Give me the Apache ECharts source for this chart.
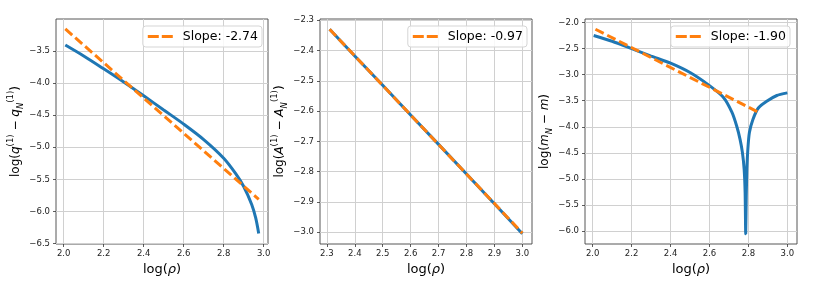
<!DOCTYPE html>
<html>
<head>
<meta charset="utf-8">
<script src="https://cdn.jsdelivr.net/npm/echarts@6/dist/echarts.min.js"></script>
<style>
html,body{margin:0;padding:0;background:#fff;}
#chart{width:831px;height:282px;}
</style>
</head>
<body>
<div id="chart"></div>
<script>
// ---- data ----
const p1X = [2.008, 2.1, 2.2, 2.3, 2.4, 2.5, 2.6, 2.7, 2.8, 2.86, 2.9, 2.94, 2.96, 2.975];
const p1Y = [-3.41, -3.58, -3.78, -3.985, -4.20, -4.42, -4.64, -4.88, -5.17, -5.41, -5.61, -5.89, -6.10, -6.34];
const fit1X = [2.008, 2.975];
const fit1Y = [-3.16, -5.81];

const p2X = [2.31, 2.4, 2.5, 2.6, 2.7, 2.8, 2.9, 3.0];
const p2Y = [-2.33, -2.418, -2.515, -2.613, -2.71, -2.808, -2.906, -3.005];
const fit2X = [2.31, 3.0];
const fit2Y = [-2.33, -3.003];

const p3X = [2.005, 2.1, 2.2, 2.3, 2.4, 2.5, 2.6, 2.67, 2.715, 2.74, 2.757, 2.769, 2.778, 2.783, 2.786, 2.789, 2.792, 2.797, 2.805, 2.823, 2.851, 2.894, 2.946, 3.0];
const p3Y = [-2.25, -2.36, -2.50, -2.645, -2.78, -2.96, -3.21, -3.43, -3.72, -3.99, -4.24, -4.49, -4.81, -5.26, -6.05, -5.3, -4.81, -4.43, -4.11, -3.86, -3.64, -3.51, -3.40, -3.35];
const fit3X = [2.014, 2.851];
const fit3Y = [-2.13, -3.72];

const legend1 = 'Slope: -2.74';
const legend2 = 'Slope: -0.97';
const legend3 = 'Slope: -1.90';

const xTicks1 = [2.0, 2.2, 2.4, 2.6, 2.8, 3.0];
const yTicks1 = [-6.5, -6.0, -5.5, -5.0, -4.5, -4.0, -3.5];
const xTicks2 = [2.3, 2.4, 2.5, 2.6, 2.7, 2.8, 2.9, 3.0];
const yTicks2 = [-3.0, -2.9, -2.8, -2.7, -2.6, -2.5, -2.4, -2.3];
const xTicks3 = [2.0, 2.2, 2.4, 2.6, 2.8, 3.0];
const yTicks3 = [-6.0, -5.5, -5.0, -4.5, -4.0, -3.5, -3.0, -2.5, -2.0];

// ---- helpers ----
const zip = (xs, ys) => xs.map((x, i) => [x, ys[i]]);
const FONT = 'DejaVu Sans';
const BLUE = '#1f77b4', ORANGE = '#ff7f0e';
const fmt = v => (Math.round(v * 10) / 10).toFixed(1).replace('-', '\u2212');

const nameRich = {
  t: {fontSize: 12, fontFamily: FONT, color: '#000', lineHeight: 19},
  i: {fontSize: 12, fontFamily: FONT, fontStyle: 'italic', color: '#000', lineHeight: 19},
  sup: {fontSize: 8.5, fontFamily: FONT, color: '#000', verticalAlign: 'top', lineHeight: 11},
  sub: {fontSize: 8.5, fontFamily: FONT, fontStyle: 'italic', color: '#000', verticalAlign: 'bottom', lineHeight: 10}
};
const xNameRich = {
  t: {fontSize: 13, fontFamily: FONT, color: '#000'},
  i: {fontSize: 13, fontFamily: FONT, fontStyle: 'italic', color: '#000'}
};

function xAxis(idx, min, max, ticks) {
  return {
    type: 'value', gridIndex: idx, min: min, max: max,
    name: '{t|log(}{i|\u03c1}{t|)}', nameLocation: 'middle', nameGap: 16,
    nameTextStyle: {rich: xNameRich},
    axisLine: {show: false},
    axisTick: {show: true, length: 3, lineStyle: {color: '#333', width: 0.8}, customValues: ticks},
    axisLabel: {customValues: ticks, formatter: fmt, fontFamily: FONT, fontSize: 8.5, color: '#222', margin: 5},
    splitLine: {show: true, lineStyle: {color: '#d0d0d0', width: 1}}
  };
}
function yAxis(idx, min, max, ticks, name, gap) {
  return {
    type: 'value', gridIndex: idx, min: min, max: max,
    name: name, nameLocation: 'middle', nameGap: gap, nameRotate: 90,
    nameTextStyle: {rich: nameRich},
    axisLine: {show: false},
    axisTick: {show: true, length: 3, lineStyle: {color: '#333', width: 0.8}, customValues: ticks},
    axisLabel: {customValues: ticks, formatter: fmt, fontFamily: FONT, fontSize: 8.5, color: '#222', margin: 6},
    splitLine: {show: true, lineStyle: {color: '#d0d0d0', width: 1}}
  };
}
function legend(name, right) {
  return {
    data: [name], right: right, top: 26, orient: 'horizontal',
    selectedMode: false,
    icon: 'path://M0,0h11v3h-11z M14,0h11v3h-11z',
    symbolKeepAspect: false,
    itemWidth: 25, itemHeight: 3,
    backgroundColor: 'rgba(255,255,255,0.85)', borderColor: '#d5d5d5', borderWidth: 1, borderRadius: 3,
    padding: [4, 4, 4, 5],
    textStyle: {fontFamily: FONT, fontSize: 12.5, color: '#000', padding: [0, 0, 0, 5]}
  };
}
function blue(idx, data, smooth) {
  return {type: 'line', xAxisIndex: idx, yAxisIndex: idx, data: data, showSymbol: false,
    smooth: smooth,
    lineStyle: {color: BLUE, width: 3}, itemStyle: {color: BLUE}, z: 2, silent: true};
}
function fit(idx, name, data) {
  return {type: 'line', name: name, xAxisIndex: idx, yAxisIndex: idx, data: data, showSymbol: false,
    lineStyle: {color: ORANGE, width: 3, type: [9.25, 4]}, itemStyle: {color: ORANGE}, z: 3, silent: true};
}

const chart = echarts.init(document.getElementById('chart'), null, {renderer: 'canvas'});
const gridBase = {top: 19, height: 225, width: 212, show: true, borderColor: '#444', borderWidth: 0.9, backgroundColor: 'transparent'};
chart.setOption({
  animation: false,
  backgroundColor: '#fff',
  grid: [
    Object.assign({left: 56}, gridBase),
    Object.assign({left: 320}, gridBase),
    Object.assign({left: 585}, gridBase)
  ],
  xAxis: [
    xAxis(0, 1.9615, 3.0215, xTicks1),
    xAxis(1, 2.2755, 3.0345, xTicks2),
    xAxis(2, 1.9605, 3.0495, xTicks3)
  ],
  yAxis: [
    yAxis(0, -6.505, -3.005, yTicks1, '{t|log(}{i|q}{sup|(1)}{t| \u2212 }{i|q}{sub|N}{sup|(1)}{t|)}', 29),
    yAxis(1, -3.039, -2.296, yTicks2, '{t|log(}{i|A}{sup|(1)}{t| \u2212 }{i|A}{sub|N}{sup|(1)}{t|)}', 29),
    yAxis(2, -6.246, -1.934, yTicks3, '{t|log(}{i|m}{sub|N}{t| \u2212 }{i|m}{t|)}', 31)
  ],
  legend: [legend(legend1, 569), legend(legend2, 304), legend(legend3, 41)],
  series: [
    blue(0, zip(p1X, p1Y), 0.3), fit(0, legend1, zip(fit1X, fit1Y)),
    blue(1, zip(p2X, p2Y), false), fit(1, legend2, zip(fit2X, fit2Y)),
    blue(2, zip(p3X, p3Y), 0.2), fit(2, legend3, zip(fit3X, fit3Y))
  ]
});
</script>
</body>
</html>
